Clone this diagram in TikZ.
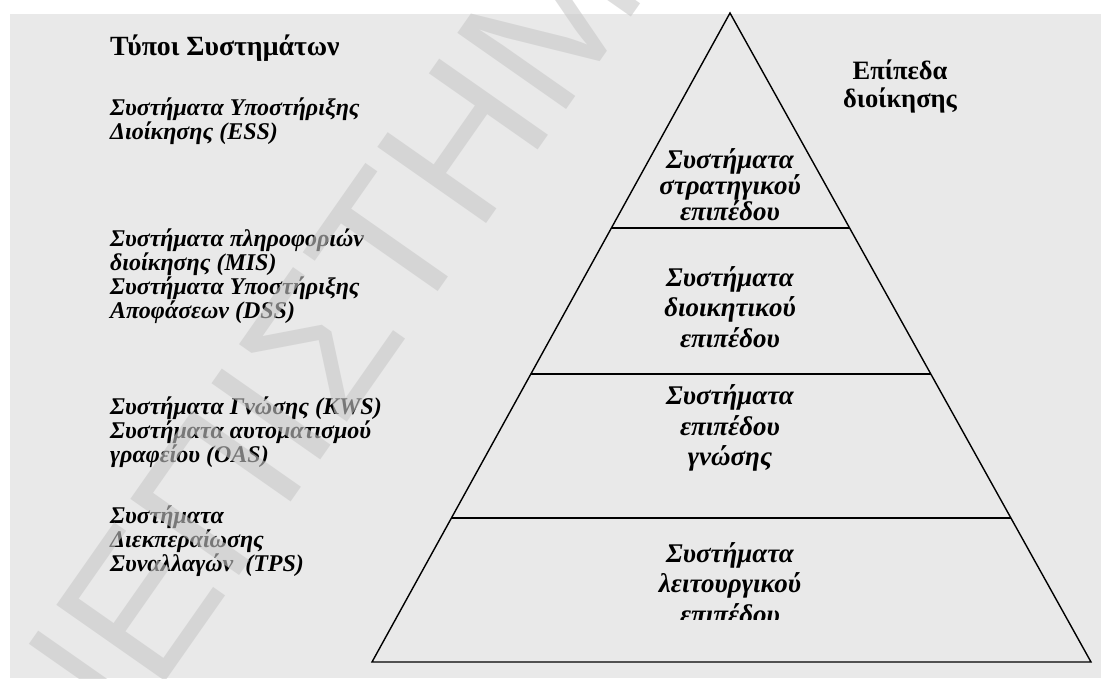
\documentclass[tikz,border=0pt]{standalone}
\usepackage{fontspec}
\usetikzlibrary{calc}
\setmainfont{Liberation Serif}
\newfontfamily\wmfont{Liberation Sans}
\definecolor{panel}{RGB}{233,233,233}
\definecolor{wmgray}{RGB}{200,200,200}
\begin{document}
\begin{tikzpicture}[x=1pt,y=-1pt,
  typetext/.style={anchor=west, align=left, inner sep=0pt,
    font=\fontsize{24}{22.5}\selectfont\bfseries\itshape},
  headtext/.style={inner sep=0pt, font=\fontsize{27}{28}\selectfont\bfseries},
  leveltext/.style={align=center, inner sep=0pt,
    font=\fontsize{27}{30.5}\selectfont\bfseries\itshape},
  edge/.style={line width=1.4pt, line join=miter},
  divider/.style={line width=1.3pt}]
\useasboundingbox (0,0) rectangle (1101,678);
\begin{scope}
\clip (0,0) rectangle (1101,678);
% panel
\fill[panel] (10,14) rectangle (1101,678);

% pyramid corners
\coordinate (apex) at (730,13);
\coordinate (bl) at (372,662);
\coordinate (br) at (1091,662);
\draw[edge] (apex) -- (bl) -- (br) -- cycle;

% level dividers on the two sides
\coordinate (l1) at ($(apex)!0.3313!(bl)$);
\coordinate (r1) at ($(apex)!0.3313!(br)$);
\coordinate (l2) at ($(apex)!0.5562!(bl)$);
\coordinate (r2) at ($(apex)!0.5562!(br)$);
\coordinate (l3) at ($(apex)!0.7781!(bl)$);
\coordinate (r3) at ($(apex)!0.7781!(br)$);
\draw[divider] (l1) -- (r1);
\draw[divider] (l2) -- (r2);
\draw[divider] (l3) -- (r3);

% column titles
\node[headtext, anchor=west, font=\fontsize{27.8}{28}\selectfont\bfseries] (types) at (110,48) {Τύποι Συστημάτων};
\node[headtext, align=center, font=\fontsize{26.5}{28}\selectfont\bfseries] (levels) at (900,86) {Επίπεδα\\διοίκησης};

% system types
\node[typetext] (ess) at (110,121.5) {Συστήματα Υποστήριξης\\Διοίκησης (ESS)};
\node[typetext] (mis) at (110,276) {Συστήματα πληροφοριών\\διοίκησης (MIS)\\Συστήματα Υποστήριξης\\Αποφάσεων (DSS)};
\node[typetext] (kws) at (110,432.5) {Συστήματα Γνώσης (KWS)\\Συστήματα αυτοματισμού\\γραφείου (OAS)};
\node[typetext] (tps) at (110,541) {Συστήματα\\Διεκπεραίωσης\\Συναλλαγών~~(TPS)};

% management levels
\node[leveltext, font=\fontsize{27}{26}\selectfont\bfseries\itshape] (strategic) at (730,185) {Συστήματα\\στρατηγικού\\επιπέδου};
\node[leveltext] (management) at (730,307) {Συστήματα\\διοικητικού\\επιπέδου};
\node[leveltext] (knowledge) at (730,428) {Συστήματα\\επιπέδου\\γνώσης};
\begin{scope}
\clip (380,530) rectangle (1000,619);
\node[leveltext] (operational) at (730,583) {Συστήματα\\λειτουργικού\\επιπέδου};
\end{scope}

% watermark lettering across the page
\node[anchor=base west, inner sep=0pt, rotate=55, text=wmgray, opacity=0.6,
  font=\fontsize{193}{193}\wmfont] (wm) at (-77,1028) {ΠΑΝΕΠΙΣΤΗΜΙΟ};
\end{scope}
\end{tikzpicture}
\end{document}
